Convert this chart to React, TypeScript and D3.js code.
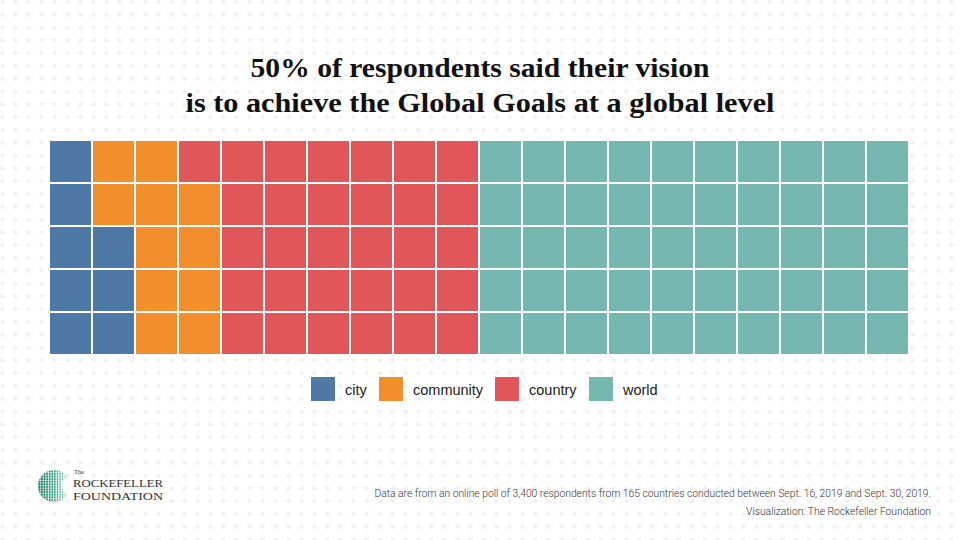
import React, { useEffect, useRef } from "react";
import * as d3 from "d3";

// share of respondents per vision level (one cell = 1%)
const categories = ["city", "community", "country", "world"];
const counts = [8, 11, 31, 50];
const colors = ["#4e79a7", "#f28e2b", "#e15759", "#76b7b2"];

const titleLines = [
  "50% of respondents said their vision",
  "is to achieve the Global Goals at a global level",
];
const titleWidths = [459, 589];
const notes = [
  "Data are from an online poll of 3,400 respondents from 165 countries conducted between Sept. 16, 2019 and Sept. 30, 2019.",
  "Visualization: The Rockefeller Foundation",
];

const nCols = 20;
const nRows = 5;

const App = () => {
  const ref = useRef(null);
  const width = 960;
  const height = 540;

  useEffect(() => {
    const svg = d3.select(ref.current);
    svg.selectAll("*").remove();

    // dotted background
    const defs = svg.append("defs");
    const pat = defs
      .append("pattern")
      .attr("id", "dots")
      .attr("patternUnits", "userSpaceOnUse")
      .attr("width", 13)
      .attr("height", 12.8)
      .attr("x", -4)
      .attr("y", -4.5);
    pat.append("circle").attr("cx", 6.5).attr("cy", 6.4).attr("r", 2.3).attr("fill", "#f1f1f1");

    svg.append("rect").attr("width", width).attr("height", height).attr("fill", "#fff");
    svg.append("rect").attr("width", width).attr("height", height).attr("fill", "url(#dots)");

    // title
    svg
      .append("g")
      .attr("font-family", "'Liberation Serif', serif")
      .attr("font-weight", "bold")
      .attr("font-size", 28)
      .attr("fill", "#111")
      .selectAll("text")
      .data(titleLines)
      .join("text")
      .attr("x", 480)
      .attr("y", (d, i) => 77 + i * 35)
      .attr("text-anchor", "middle")
      .attr("textLength", (d, i) => titleWidths[i])
      .attr("lengthAdjust", "spacingAndGlyphs")
      .text((d) => d);

    // waffle cells, filled column by column from the bottom
    const cells = [];
    counts.forEach((c, k) => {
      for (let j = 0; j < c; j++) cells.push(k);
    });

    const x = d3.scaleBand().domain(d3.range(nCols)).range([49, 909]);
    const y = d3.scaleBand().domain(d3.range(nRows)).range([140, 355]);

    svg
      .append("rect")
      .attr("x", x.range()[0])
      .attr("y", y.range()[0])
      .attr("width", x.range()[1] - x.range()[0])
      .attr("height", y.range()[1] - y.range()[0])
      .attr("fill", "#fff");

    svg
      .append("g")
      .selectAll("rect")
      .data(cells)
      .join("rect")
      .attr("x", (d, i) => x(Math.floor(i / nRows)) + 1)
      .attr("y", (d, i) => y(nRows - 1 - (i % nRows)) + 1)
      .attr("width", x.bandwidth() - 2)
      .attr("height", y.bandwidth() - 2)
      .attr("fill", (d) => colors[d]);

    // legend
    const legendX = [311, 379, 495, 589];
    const lg = svg
      .append("g")
      .selectAll("g")
      .data(categories)
      .join("g")
      .attr("transform", (d, i) => `translate(${legendX[i]},377)`);
    lg.append("rect")
      .attr("width", 24)
      .attr("height", 24)
      .attr("fill", (d, i) => colors[i]);
    lg.append("text")
      .attr("x", 34)
      .attr("y", 18)
      .attr("font-family", "'Liberation Sans', Arial, sans-serif")
      .attr("font-size", 14.5)
      .attr("fill", "#1a1a1a")
      .text((d) => d);

    // notes
    svg
      .append("g")
      .selectAll("text")
      .data(notes)
      .join("text")
      .attr("x", 931)
      .attr("y", (d, i) => 497 + i * 18)
      .attr("text-anchor", "end")
      .attr("font-family", "Roboto, sans-serif")
      .attr("font-weight", 300)
      .attr("font-size", 10.3)
      .attr("fill", "#333")
      .text((d) => d);

    // logo: dotted globe + wordmark
    const grad = defs
      .append("linearGradient")
      .attr("id", "globe")
      .attr("x1", 0)
      .attr("x2", 1);
    grad.append("stop").attr("offset", "0%").attr("stop-color", "#0b6e55");
    grad.append("stop").attr("offset", "55%").attr("stop-color", "#1f9a78");
    grad.append("stop").attr("offset", "100%").attr("stop-color", "#bfe3d6");
    const clip = defs.append("clipPath").attr("id", "globeClip");
    clip.append("circle").attr("cx", 54).attr("cy", 486).attr("r", 16);

    const logo = svg.append("g");
    logo
      .append("circle")
      .attr("cx", 54)
      .attr("cy", 486)
      .attr("r", 16)
      .attr("fill", "url(#globe)");
    const gridLines = logo.append("g").attr("clip-path", "url(#globeClip)");
    d3.range(38, 72, 2.6).forEach((v) => {
      gridLines
        .append("line")
        .attr("x1", v)
        .attr("x2", v)
        .attr("y1", 468)
        .attr("y2", 504)
        .attr("stroke", "#fff")
        .attr("stroke-width", 0.5 + (v - 38) / 30);
    });
    d3.range(470, 504, 2.6).forEach((v) => {
      gridLines
        .append("line")
        .attr("x1", 36)
        .attr("x2", 72)
        .attr("y1", v)
        .attr("y2", v)
        .attr("stroke", "#fff")
        .attr("stroke-width", 0.6);
    });
    logo
      .append("circle")
      .attr("cx", 69)
      .attr("cy", 486)
      .attr("r", 8)
      .attr("fill", "#fff")
      .attr("opacity", 0.85);

    const word = logo
      .append("g")
      .attr("font-family", "'Liberation Serif', serif")
      .attr("fill", "#333");
    word.append("text").attr("x", 74).attr("y", 474).attr("font-size", 6.5).text("The");
    word
      .append("text")
      .attr("x", 73)
      .attr("y", 487)
      .attr("font-size", 11)
      .attr("textLength", 90)
      .attr("lengthAdjust", "spacingAndGlyphs")
      .text("ROCKEFELLER");
    word
      .append("text")
      .attr("x", 73)
      .attr("y", 500)
      .attr("font-size", 11)
      .attr("textLength", 90)
      .attr("lengthAdjust", "spacingAndGlyphs")
      .text("FOUNDATION");
  }, []);

  return (
    <svg
      ref={ref}
      width={width}
      height={height}
      style={{ position: "absolute", top: 0, left: 0, display: "block" }}
    ></svg>
  );
};

export default App;
